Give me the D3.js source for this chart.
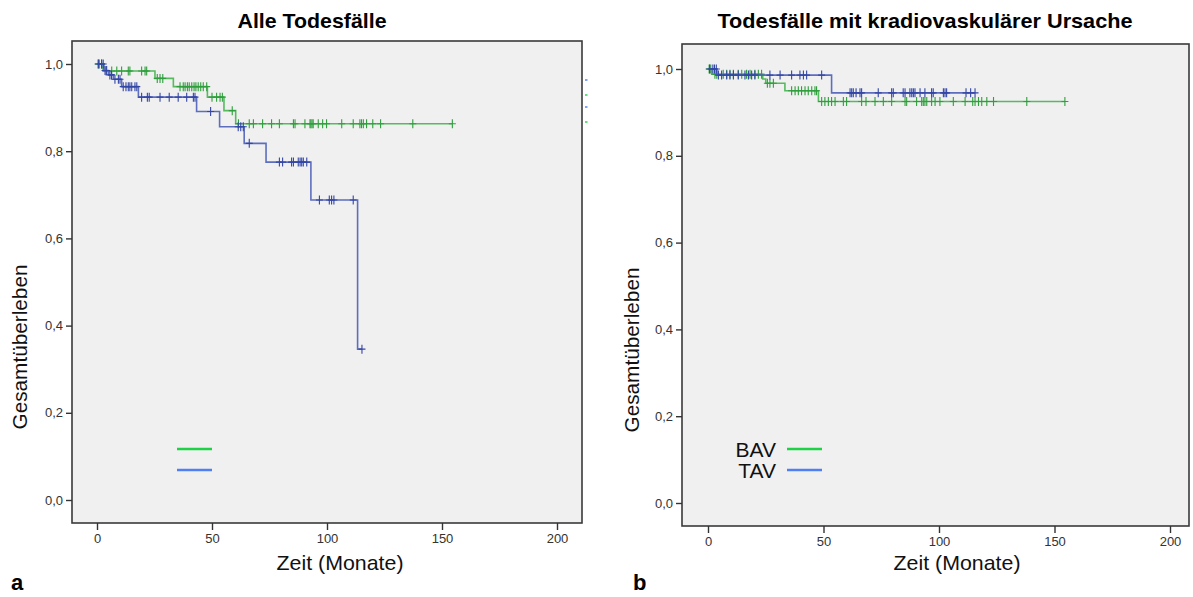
<!DOCTYPE html>
<html>
<head>
<meta charset="utf-8">
<script src="https://cdn.jsdelivr.net/npm/d3@7"></script>
<style>
  body { margin: 0; background: #fff; }
  svg { display: block; font-family: Arial, "Liberation Sans", sans-serif; }
</style>
</head>
<body>
<svg id="chart" width="1193" height="597"></svg>
<script>
// --- data (time in months, survival as fraction) ---

// panel a: Alle Todesfälle
const allBavTime = [0, 2.6, 25.2, 33.2, 48.0, 55.2, 60.3];
const allBavSurv = [1.0, 0.984, 0.967, 0.948, 0.924, 0.893, 0.863];
const allBavCensor = [0.5, 1, 2, 3.9, 6.4, 8.6, 10.7, 13.6, 14.3, 19.4, 20.9, 21.6,
  26.2, 27.4, 28.6, 36.1, 37.5, 38.3, 39.3, 40.1, 41.2, 42.2, 43, 44, 45.1, 46.2, 47.7,
  50, 52, 53.5, 54.5, 58.8, 61.5, 66.2, 68, 72, 75.9, 79.3, 85.4, 86.1, 90.4, 92.6, 93,
  93.5, 94, 96.2, 98.1, 99.8, 106.4, 111.4, 114.3, 115, 115.8, 117.2, 119.9, 123.3,
  137.3, 154.5];

const allTavTime = [0, 3, 5, 7.1, 10.7, 18, 43.3, 53.3, 64, 73.5, 93, 113.3];
const allTavSurv = [1.0, 0.985, 0.975, 0.965, 0.948, 0.924, 0.891, 0.856, 0.818, 0.775, 0.688, 0.346];
const allTavCensor = [0.6, 2, 2.7, 3.5, 4.2, 5.6, 6.3, 7.8, 9.3, 10, 11.4, 12.6, 13.6, 14.3,
  15.1, 16.5, 17.3, 19.4, 21.9, 22.7, 27.4, 31.4, 35.3, 39, 41.9, 42.6, 49.4, 61.4, 62.5,
  63.6, 66.2, 79.3, 80.7, 84.6, 85.4, 87.5, 88.3, 89, 89.7, 91.2, 96.7, 101, 102, 103,
  111.4, 115.2];

// panel b: Todesfälle mit kradiovaskulärer Ursache
const cvBavTime = [0, 1.6, 23.7, 25, 33.3, 47.8];
const cvBavSurv = [1.0, 0.988, 0.977, 0.967, 0.95, 0.925];
const cvBavCensor = [0.5, 1.2, 3, 3.8, 6.6, 8.1, 9.5, 11, 13.1, 14.6, 16.7, 18.2, 20.3,
  21.8, 23.2, 25.7, 26.8, 28.3, 36.2, 37.7, 39.1, 40.5, 42, 43.4, 44.9, 46.3, 47,
  49.2, 50.6, 52.1, 53.5, 55, 58.6, 60, 66.5, 68.4, 72.3, 75.9, 79.5, 85.3, 86, 90.3,
  92.5, 93.2, 93.9, 94.7, 96.8, 98.3, 100.4, 106.2, 111.3, 114.6, 115.6, 117.1, 118.5,
  120.7, 123.6, 138, 154.5];

const cvTavTime = [0, 3.8, 53.5];
const cvTavSurv = [1.0, 0.986, 0.945];
const cvTavCensor = [0.7, 2.1, 2.8, 3.6, 4.5, 5.9, 8.1, 9.5, 11, 13.1, 16, 17.5, 18.9,
  20.3, 26.8, 31.2, 36.2, 39.8, 41.3, 42.7, 49.2, 61.5, 62.2, 62.9, 64.1, 65.8, 66.5,
  73.7, 79.5, 80.2, 84.5, 85.3, 87.4, 88.2, 88.9, 89.6, 91.8, 93.9, 96.8, 97.5, 101.9,
  102.6, 103.3, 111.7, 113.7, 115.6];

const xTicks = [0, 50, 100, 150, 200];
const yTicks = [0, 0.2, 0.4, 0.6, 0.8, 1.0];
const groupNames = ["BAV", "TAV"];

// --- styling ---
const lineColor = { BAV: "#45b54f", TAV: "#4c5fb8" };
const markColor = { BAV: "#2f9e3c", TAV: "#3346a6" };
const legendColor = { BAV: "#1fd147", TAV: "#4f7ff2" };

const svg = d3.select("#chart");
const fmt = v => d3.format(".1f")(v).replace(".", ",");

function survAt(times, surv, t) {
  let s = surv[0];
  for (let i = 0; i < times.length; i++) if (times[i] <= t) s = surv[i];
  return s;
}

function drawPanel(p) {
  const x = d3.scaleLinear().domain([0, 200]).range([p.x0, p.x200]);
  const y = d3.scaleLinear().domain([0, 1]).range([p.y0, p.y1]);
  const g = svg.append("g");

  g.append("rect")
    .attr("x", p.left).attr("y", p.top)
    .attr("width", p.right - p.left).attr("height", p.bottom - p.top)
    .attr("fill", "#f0f0f0").attr("stroke", "#3a3a3a").attr("stroke-width", 1.6);

  // axes
  const yAxis = g.append("g")
    .attr("transform", `translate(${p.left},0)`)
    .call(d3.axisLeft(y).tickValues(yTicks).tickFormat(fmt).tickSize(6).tickPadding(3));
  const xAxis = g.append("g")
    .attr("transform", `translate(0,${p.bottom})`)
    .call(d3.axisBottom(x).tickValues(xTicks).tickSize(7).tickPadding(4));
  [xAxis, yAxis].forEach(a => {
    a.select(".domain").remove();
    a.selectAll(".tick line").attr("stroke", "#333").attr("stroke-width", 1.4);
    a.selectAll(".tick text").attr("fill", "#333")
      .style("font-size", "13px").style("font-family", "Arial, 'Liberation Sans', sans-serif");
  });

  // curves
  p.series.forEach(s => {
    const end = d3.max(s.censor);
    const pts = [];
    s.time.forEach((t, i) => {
      if (i > 0) pts.push([t, s.surv[i - 1]]);
      pts.push([t, s.surv[i]]);
    });
    pts.push([end, s.surv[s.surv.length - 1]]);

    g.append("path")
      .datum(pts)
      .attr("fill", "none")
      .attr("stroke", lineColor[s.name])
      .attr("stroke-width", 1.6)
      .attr("stroke-opacity", 0.9)
      .attr("d", d3.line().x(d => x(d[0])).y(d => y(d[1])));

    g.append("g").selectAll("path")
      .data(s.censor)
      .join("path")
      .attr("stroke", markColor[s.name])
      .attr("stroke-width", 1.1)
      .attr("fill", "none")
      .attr("d", t => {
        const cx = x(t), cy = y(survAt(s.time, s.surv, t));
        return `M${cx},${cy - 4.5}V${cy + 4.5}M${cx - 3.5},${cy}H${cx + 3.5}`;
      });
  });

  // legend
  groupNames.forEach((n, i) => {
    const ly = p.legendY + i * 21;
    g.append("line")
      .attr("x1", p.legendX).attr("x2", p.legendX + 35)
      .attr("y1", ly).attr("y2", ly)
      .attr("stroke", legendColor[n]).attr("stroke-width", 2.6);
    if (p.legendText) {
      g.append("text")
        .attr("x", p.legendX - 11).attr("y", ly + 8)
        .attr("text-anchor", "end")
        .style("font-size", "21px").attr("fill", "#111")
        .text(n);
    }
  });

  // titles
  g.append("text")
    .attr("x", p.titleX).attr("y", 28)
    .attr("text-anchor", "middle")
    .attr("textLength", p.titleLen).attr("lengthAdjust", "spacingAndGlyphs")
    .style("font-size", "21px").style("font-weight", "bold")
    .text(p.title);

  g.append("text")
    .attr("x", p.xLabelX).attr("y", 570)
    .attr("text-anchor", "middle")
    .attr("textLength", 127).attr("lengthAdjust", "spacingAndGlyphs")
    .style("font-size", "21px").attr("fill", "#111")
    .text("Zeit (Monate)");

  g.append("text")
    .attr("transform", `translate(${p.yLabelX},${p.yLabelY}) rotate(-90)`)
    .attr("text-anchor", "middle")
    .attr("textLength", 165).attr("lengthAdjust", "spacingAndGlyphs")
    .style("font-size", "21px").attr("fill", "#111")
    .text("Gesamtüberleben");

  g.append("text")
    .attr("x", p.tagX).attr("y", 590)
    .style("font-size", "22px").style("font-weight", "bold")
    .text(p.tag);
}

drawPanel({
  left: 72, right: 582, top: 41, bottom: 523,
  x0: 97, x200: 557, y0: 500, y1: 64,
  title: "Alle Todesfälle", titleX: 312, titleLen: 149,
  xLabelX: 340, yLabelX: 27, yLabelY: 347, tag: "a", tagX: 11,
  legendX: 177, legendY: 449, legendText: false,
  series: [
    { name: "BAV", time: allBavTime, surv: allBavSurv, censor: allBavCensor },
    { name: "TAV", time: allTavTime, surv: allTavSurv, censor: allTavCensor }
  ]
});

// clipped legend remnants at the right edge of panel a
[[80, "TAV"], [95, "BAV"], [107, "TAV"], [122, "BAV"]].forEach(([yy, n]) => {
  svg.append("rect").attr("x", 585).attr("y", yy - 1).attr("width", 2.5).attr("height", 2)
    .attr("fill", legendColor[n]).attr("opacity", 0.7);
});

drawPanel({
  left: 682, right: 1189, top: 44, bottom: 526,
  x0: 708, x200: 1170, y0: 503, y1: 69,
  title: "Todesfälle mit kradiovaskulärer Ursache", titleX: 925, titleLen: 415,
  xLabelX: 957, yLabelX: 639, yLabelY: 350, tag: "b", tagX: 633,
  legendX: 787, legendY: 449, legendText: true,
  series: [
    { name: "BAV", time: cvBavTime, surv: cvBavSurv, censor: cvBavCensor },
    { name: "TAV", time: cvTavTime, surv: cvTavSurv, censor: cvTavCensor }
  ]
});
</script>
</body>
</html>
